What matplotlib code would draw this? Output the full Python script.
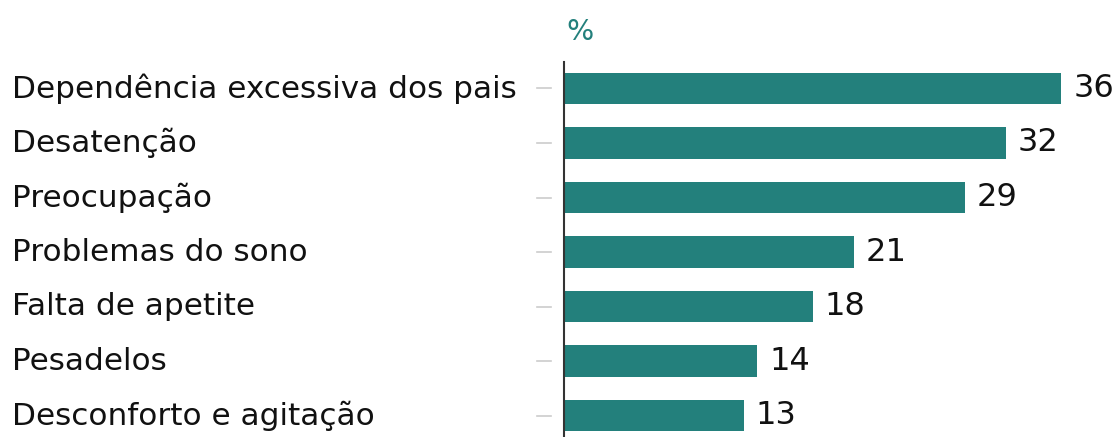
import matplotlib.pyplot as plt
from matplotlib.transforms import blended_transform_factory

# Data
categories = ['Dependência excessiva dos pais', 'Desatenção', 'Preocupação',
              'Problemas do sono', 'Falta de apetite', 'Pesadelos',
              'Desconforto e agitação']
values = [36, 32, 29, 21, 18, 14, 13]

teal = '#23807c'
plt.rcParams['font.family'] = ['DejaVu Sans']

fig = plt.figure(figsize=(11.18, 4.37), dpi=100)
ax = fig.add_axes([564 / 1118, 0, 1 - 564 / 1118, (437 - 62) / 437])

y = list(range(len(categories)))
ax.barh(y, values, height=0.57, color=teal)

ax.set_xlim(0, 40.1)
ax.set_ylim(6.394, -0.486)
ax.set_xticks([])
ax.set_yticks([])
for s in ['top', 'right', 'bottom']:
    ax.spines[s].set_visible(False)
ax.spines['left'].set_color('#333333')
ax.spines['left'].set_linewidth(1.5)

# labels and little grey tick marks
trans = blended_transform_factory(fig.transFigure, ax.transData)
for yi, cat, v in zip(y, categories, values):
    ax.text(12 / 1118, yi, cat, transform=trans, ha='left', va='center',
            fontsize=22.4, color='#111111')
    ax.plot([537 / 1118, 551 / 1118], [yi, yi], transform=trans,
            color='#cccccc', lw=1.2, clip_on=False)
    ax.text(v + 0.85, yi, str(v), ha='left', va='center',
            fontsize=23, color='#111111')

fig.text(566 / 1118, 1 - 32 / 437, '%', ha='left', va='center',
         fontsize=20.5, color=teal)

fig.savefig('out.png', dpi=100)
